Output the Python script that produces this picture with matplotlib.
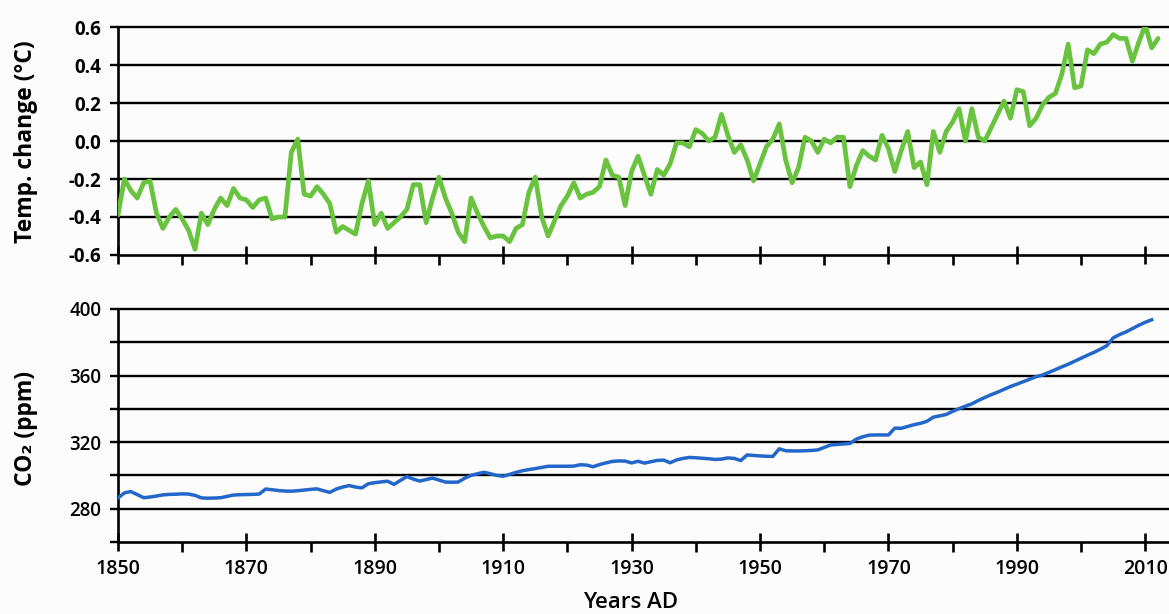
import matplotlib.pyplot as plt
from matplotlib.ticker import MultipleLocator

# global temperature anomaly (1850-2012)
temp_years = list(range(1850, 2013))
temp_change = [
    -0.39, -0.20, -0.26, -0.30, -0.22, -0.21, -0.38, -0.46, -0.40, -0.36,
    -0.41, -0.47, -0.57, -0.38, -0.44, -0.36, -0.30, -0.34, -0.25, -0.30,
    -0.31, -0.35, -0.31, -0.30, -0.41, -0.40, -0.40, -0.06, 0.01, -0.28,
    -0.29, -0.24, -0.28, -0.33, -0.48, -0.45, -0.47, -0.49, -0.33, -0.21,
    -0.44, -0.38, -0.46, -0.43, -0.40, -0.36, -0.23, -0.23, -0.43, -0.30,
    -0.19, -0.30, -0.38, -0.48, -0.53, -0.30, -0.38, -0.45, -0.51, -0.50,
    -0.50, -0.53, -0.46, -0.44, -0.27, -0.19, -0.40, -0.50, -0.42, -0.34,
    -0.29, -0.22, -0.30, -0.28, -0.27, -0.24, -0.10, -0.18, -0.19, -0.34,
    -0.16, -0.08, -0.18, -0.28, -0.15, -0.18, -0.12, -0.01, -0.01, -0.03,
    0.06, 0.04, 0.00, 0.02, 0.14, 0.03, -0.06, -0.02, -0.10, -0.21,
    -0.12, -0.03, 0.01, 0.09, -0.10, -0.22, -0.14, 0.02, 0.00, -0.06,
    0.01, -0.01, 0.02, 0.02, -0.24, -0.13, -0.05, -0.08, -0.10, 0.03,
    -0.04, -0.16, -0.05, 0.05, -0.14, -0.11, -0.23, 0.05, -0.06, 0.05,
    0.10, 0.17, 0.00, 0.17, 0.02, 0.00, 0.07, 0.14, 0.21, 0.12,
    0.27, 0.26, 0.08, 0.12, 0.19, 0.23, 0.25, 0.35, 0.51, 0.28,
    0.29, 0.48, 0.46, 0.51, 0.52, 0.56, 0.54, 0.54, 0.42, 0.52,
    0.61, 0.49, 0.54,
]

# atmospheric CO2 (1850-2011)
co2_years = list(range(1850, 2012))
co2_ppm = [
    286.4, 289.5, 290.3, 288.5, 286.6, 287.0, 287.6, 288.3, 288.6, 288.7,
    288.9, 288.8, 288.0, 286.5, 286.3, 286.4, 286.6, 287.4, 288.2, 288.4,
    288.5, 288.6, 288.8, 291.8, 291.4, 290.9, 290.6, 290.5, 290.8, 291.2,
    291.6, 291.9, 290.8, 289.8, 291.8, 293.0, 293.9, 293.0, 292.5, 295.0,
    295.6, 296.1, 296.5, 294.6, 297.0, 299.3, 297.8, 296.6, 297.5, 298.4,
    297.2, 296.0, 295.9, 296.0, 298.3, 300.0, 301.0, 301.9, 301.0, 300.0,
    299.5, 300.6, 301.8, 302.8, 303.5, 304.1, 304.8, 305.5, 305.5, 305.5,
    305.5, 305.6, 306.4, 306.2, 305.2, 306.5, 307.5, 308.4, 308.7, 308.6,
    307.5, 308.5, 307.4, 308.2, 309.0, 309.2, 307.6, 309.3, 310.2, 310.8,
    310.6, 310.3, 310.0, 309.6, 309.8, 310.5, 310.2, 308.9, 312.3, 312.0,
    311.7, 311.5, 311.4, 316.0, 314.8, 314.7, 314.7, 314.8, 315.0, 315.3,
    316.8, 318.3, 318.6, 318.9, 319.2, 321.8, 323.2, 324.2, 324.3, 324.3,
    324.3, 328.4, 328.3, 329.4, 330.5, 331.3, 332.5, 335.0, 335.8, 336.6,
    338.5, 340.1, 341.6, 343.0, 345.0, 346.8, 348.5, 350.0, 351.7, 353.4,
    354.8, 356.3, 357.8, 359.3, 360.3, 361.9, 363.5, 365.2, 366.8, 368.6,
    370.4, 372.2, 373.9, 375.8, 377.9, 382.6, 384.6, 386.2, 388.2, 390.2,
    392.0, 393.5,
]

temp_ticks = [-0.6, -0.4, -0.2, 0.0, 0.2, 0.4, 0.6]
co2_ticks = [260, 280, 300, 320, 340, 360, 380, 400]
co2_labels = ['', '280', '', '320', '', '360', '', '400']
year_labels = [1850, 1870, 1890, 1910, 1930, 1950, 1970, 1990, 2010]

plt.rcParams['font.family'] = ['Open Sans', 'DejaVu Sans']

fig = plt.figure(figsize=(11.69, 6.14), dpi=100, facecolor='#fcfcfc')
ax1 = fig.add_axes([0.1009, 0.5847, 0.8991, 0.3713])
ax2 = fig.add_axes([0.1009, 0.1173, 0.8991, 0.3795])


def style(ax, ticks):
    ax.set_facecolor('#fcfcfc')
    ax.set_xlim(1850, 2013.7)
    ax.set_ylim(ticks[0], ticks[-1])
    ax.spines['top'].set_visible(False)
    ax.spines['right'].set_visible(False)
    for s in ('left', 'bottom'):
        ax.spines[s].set_linewidth(1.9)
        ax.spines[s].set_color('black')
    for t in ticks[1:]:
        ax.axhline(t, color='black', lw=1.7, zorder=1, clip_on=False)
    ax.set_yticks(ticks)
    ax.xaxis.set_major_locator(MultipleLocator(20))
    ax.xaxis.set_minor_locator(MultipleLocator(10))
    ax.tick_params(axis='x', which='major', direction='inout', length=13, width=1.9)
    ax.tick_params(axis='x', which='minor', direction='out', length=7, width=1.9)
    ax.tick_params(axis='y', direction='out', length=6, width=1.7, pad=6,
                   labelsize=13.5)


style(ax1, temp_ticks)
ax1.plot(temp_years, temp_change, color='#69c33f', lw=3.4, zorder=3,
         solid_joinstyle='round', solid_capstyle='round')
ax1.set_yticklabels([f'{t:.1f}' for t in temp_ticks], fontweight='bold')
ax1.set_xticks(year_labels)
ax1.set_xticklabels([])

style(ax2, co2_ticks)
ax2.plot(co2_years, co2_ppm, color='#2267c9', lw=2.5, zorder=3)
ax2.set_yticklabels(co2_labels, fontweight='semibold')
ax2.set_xticks(year_labels)
ax2.set_xticklabels([str(y) for y in year_labels], fontsize=14,
                    fontweight='semibold')
ax2.tick_params(axis='x', which='major', pad=6)

fig.text(0.022, 1 - 142 / 614, 'Temp. change (°C)', rotation=90,
         ha='center', va='center', fontsize=16.5, fontweight='bold')
fig.text(0.022, 1 - 428 / 614, 'CO₂ (ppm)', rotation=90,
         ha='center', va='center', fontsize=16.5, fontweight='bold')
fig.text(0.539, 1 - 603 / 614, 'Years AD', ha='center', va='center',
         fontsize=16, fontweight='semibold')

fig.savefig('out.png', dpi=100, facecolor=fig.get_facecolor())
